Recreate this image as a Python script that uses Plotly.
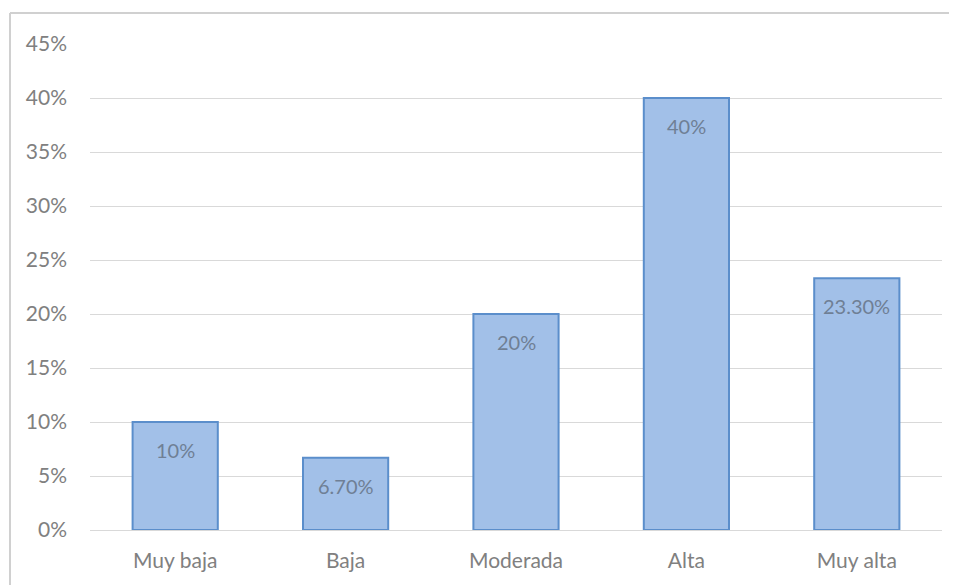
import plotly.graph_objects as go

categories = ["Muy baja", "Baja", "Moderada", "Alta", "Muy alta"]
values = [0.10, 0.067, 0.20, 0.40, 0.233]
value_labels = ["10%", "6.70%", "20%", "40%", "23.30%"]
tick_vals = [0, 0.05, 0.10, 0.15, 0.20, 0.25, 0.30, 0.35, 0.40, 0.45]
tick_text = ["0%", "5%", "10%", "15%", "20%", "25%", "30%", "35%", "40%", "45%"]

FONT = "Lato, 'Open Sans', 'DejaVu Sans', sans-serif"
TICK_COLOR = "#808080"
LABEL_COLOR = "#6f7f95"

fig = go.Figure()
fig.add_trace(go.Bar(
    x=categories,
    y=values,
    marker=dict(color="#a2c0e8", line=dict(color="#5b8ecb", width=2)),
    width=0.5,
    hoverinfo="skip",
))

annotations = [
    dict(x=c, y=v, xref="x", yref="y", text=t, showarrow=False,
         yanchor="middle", yshift=-28,
         font=dict(family=FONT, size=20, color=LABEL_COLOR))
    for c, v, t in zip(categories, values, value_labels)
]

# page body adds an 8px margin around the figure
W, H = 949, 577
L, R, T, B = 82, 15, 36, 55
pw = W - L - R
ph = H - T - B

frame_x = (2 - L) / pw
frame_y = 1 + (T - 5) / ph

fig.update_layout(
    width=W, height=H,
    margin=dict(l=L, r=R, t=T, b=B),
    paper_bgcolor="white",
    plot_bgcolor="white",
    showlegend=False,
    font=dict(family=FONT, size=21, color=TICK_COLOR),
    xaxis=dict(
        showgrid=False, showline=False, ticks="",
        tickfont=dict(family=FONT, size=21, color=TICK_COLOR),
        ticklabelstandoff=16,
    ),
    yaxis=dict(
        range=[0, 0.45],
        tickvals=tick_vals,
        ticktext=tick_text,
        showgrid=True,
        gridcolor="#d9d9d9",
        gridwidth=1,
        zeroline=True,
        zerolinecolor="#d9d9d9",
        zerolinewidth=1,
        showline=False,
        ticks="",
        tickfont=dict(family=FONT, size=21, color=TICK_COLOR),
        ticklabelstandoff=22,
    ),
    annotations=annotations,
    shapes=[
        dict(type="line", xref="paper", yref="paper",
             x0=frame_x, x1=(W + 20 - L) / pw,
             y0=frame_y, y1=frame_y,
             line=dict(color="#d0d0d0", width=2)),
        dict(type="line", xref="paper", yref="paper",
             x0=frame_x, x1=frame_x,
             y0=frame_y, y1=-(B + 20) / ph,
             line=dict(color="#d0d0d0", width=2)),
    ],
)

fig.write_html("out.html")
